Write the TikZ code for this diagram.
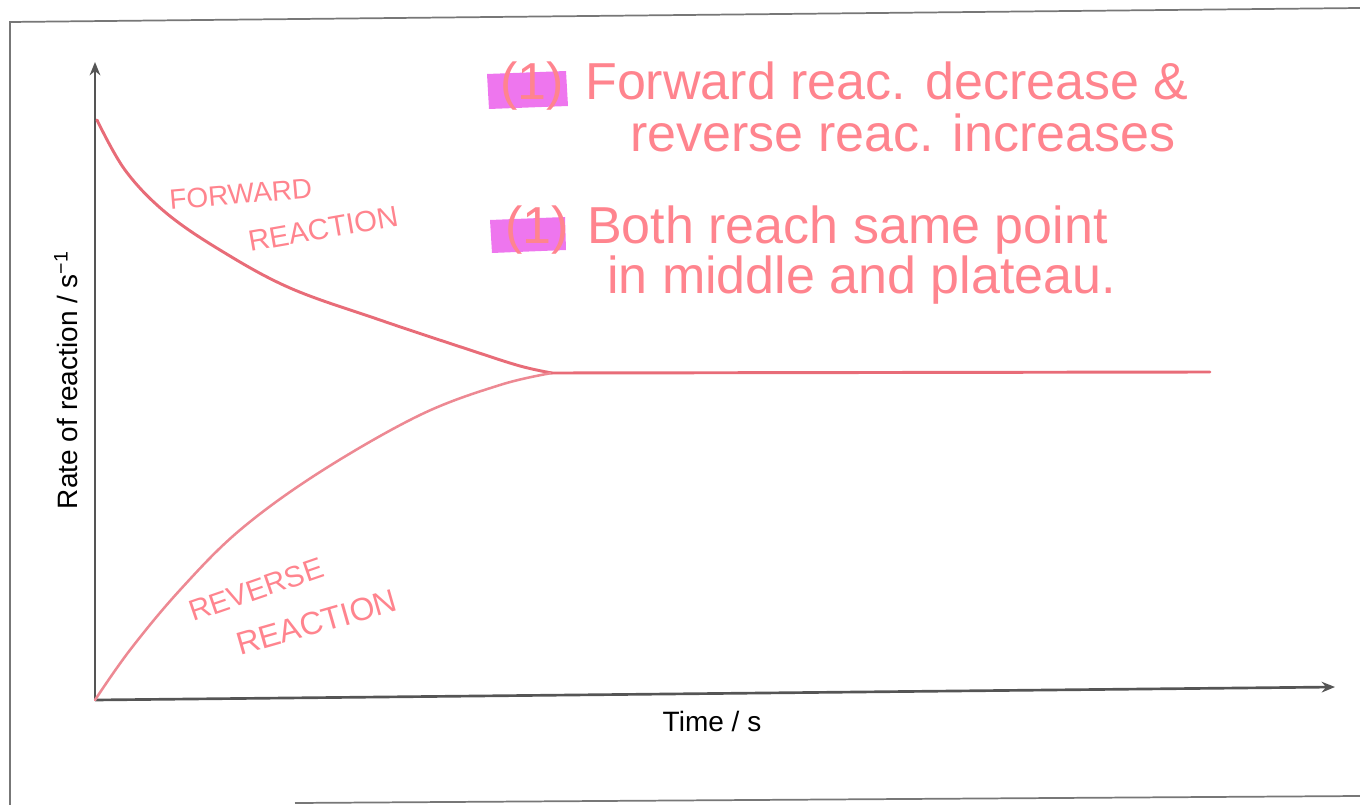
\documentclass[tikz,border=0pt]{standalone}
\usepackage{fontspec}
\setmainfont{Liberation Sans}
\usetikzlibrary{arrows.meta}
\definecolor{axisgray}{RGB}{85,85,85}
\definecolor{curvered}{RGB}{232,108,120}
\definecolor{inkpink}{RGB}{255,132,142}
\definecolor{hilite}{RGB}{238,118,238}
\tikzset{
  frameline/.style={draw=axisgray!80, line width=1.3pt},
  axisline/.style={draw=axisgray, line width=2pt, -{Stealth[length=10pt,width=8pt]}},
  curve/.style={draw=curvered, line width=2.2pt, line cap=round, line join=round},
  ink/.style={text=inkpink, inner sep=0pt, font=\fontsize{39}{46}\selectfont},
  capsink/.style={text=inkpink, inner sep=0pt},
  axislabel/.style={text=black, inner sep=0pt, font=\fontsize{21}{25}\selectfont},
  hbox/.style={fill=hilite, draw=none}
}
\begin{document}
\begin{tikzpicture}[x=0.75pt,y=-0.75pt]
\useasboundingbox (0,0) rectangle (1360,805);
% frame
\draw[frameline] (10,805) -- (10,22) -- (1360,8);
\draw[frameline] (295,803) -- (1360,796);
% axes
\coordinate (O) at (95,700);
\coordinate (ytip) at (95,62);
\coordinate (xtip) at (1335,687);
\draw[axisline] (O) -- (ytip);
\draw[axisline] (O) -- (xtip);
% axis labels
\node[axislabel, rotate=90] (ylab) at (66,380) {Rate of reaction / s\textsuperscript{\char"2212 1}};
\node[axislabel] (xlab) at (712,721) {Time / s};
% curves
\draw[curve] plot[smooth, tension=0.6] coordinates {(97,120) (125,170) (165,212) (220,250) (290,288) (380,320) (470,350) (520,366) (552,373)};
\draw[curve, draw=curvered!80, line width=1.9pt] plot[smooth, tension=0.6] coordinates {(95,700) (130,650) (180,590) (240,530) (320,472) (420,415) (500,385) (552,373)};
\draw[curve] (552,373) -- (1210,372);
% curve labels
\node[capsink, font=\fontsize{21}{25}\selectfont, rotate=5, anchor=base west] (fw) at (170,210) {FORWARD};
\node[capsink, font=\fontsize{22}{26}\selectfont, rotate=10, anchor=base west] (fr) at (250,252) {REACTION};
\node[capsink, font=\fontsize{22}{26}\selectfont, rotate=19, anchor=base west] (rv) at (193,622) {REVERSE};
\node[capsink, font=\fontsize{24}{28}\selectfont, rotate=16, anchor=base west] (rr) at (240,656) {REACTION};
% highlights
\fill[hbox] (487,74) -- (566,71) -- (568,106) -- (489,109) -- cycle;
\fill[hbox] (490,220) -- (565,217) -- (566,250) -- (492,253) -- cycle;
% notes
\node[ink, anchor=base west] (n1a) at (500,100) {(1)};
\node[ink, anchor=base west] (n1) at (585,100) {Forward reac. decrease \&};
\node[ink, anchor=base west] (n2) at (630,152) {reverse reac. increases};
\node[ink, anchor=base west] (n3a) at (505,244) {(1)};
\node[ink, anchor=base west] (n3) at (587,244) {Both reach same point};
\node[ink, anchor=base west] (n4) at (607,294) {in middle and plateau.};
\end{tikzpicture}
\end{document}
